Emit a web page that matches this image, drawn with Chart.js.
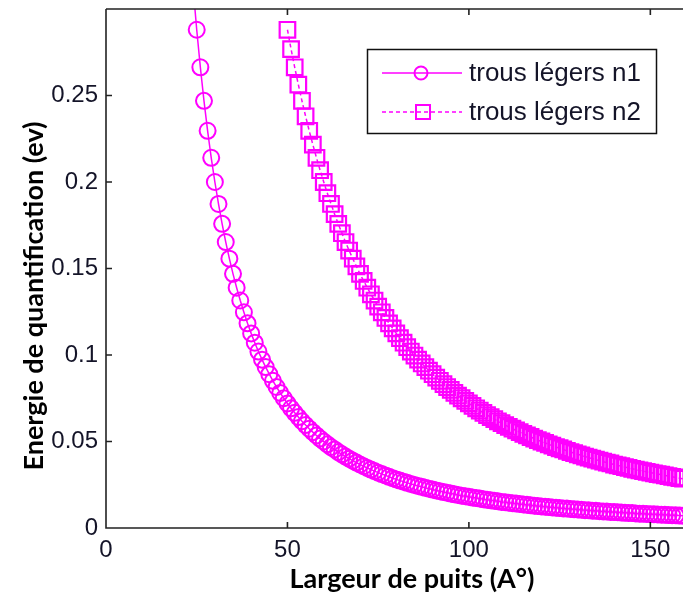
<!DOCTYPE html>
<html>
<head>
<meta charset="utf-8">
<script src="https://cdn.jsdelivr.net/npm/chart.js@4/dist/chart.umd.min.js"></script>
<style>
    html, body { margin: 0; padding: 0; background: #fff; }
    #wrap { width: 683px; height: 597px; position: relative; overflow: hidden; }
</style>
</head>
<body>
<div id="wrap"><canvas id="energyChart"></canvas></div>
<script>
// largeur de puits (A°)
const puits = [
    24, 25, 26, 27, 28, 29, 30, 31, 32, 33,
    34, 35, 36, 37, 38, 39, 40, 41, 42, 43,
    44, 45, 46, 47, 48, 49, 50, 51, 52, 53,
    54, 55, 56, 57, 58, 59, 60, 61, 62, 63,
    64, 65, 66, 67, 68, 69, 70, 71, 72, 73,
    74, 75, 76, 77, 78, 79, 80, 81, 82, 83,
    84, 85, 86, 87, 88, 89, 90, 91, 92, 93,
    94, 95, 96, 97, 98, 99, 100, 101, 102, 103,
    104, 105, 106, 107, 108, 109, 110, 111, 112, 113,
    114, 115, 116, 117, 118, 119, 120, 121, 122, 123,
    124, 125, 126, 127, 128, 129, 130, 131, 132, 133,
    134, 135, 136, 137, 138, 139, 140, 141, 142, 143,
    144, 145, 146, 147, 148, 149, 150, 151, 152, 153,
    154, 155, 156, 157, 158, 159, 160
];

// trous légers n1 (ev)
const energieN1 = [
    0.3125, 0.288, 0.2663, 0.2469, 0.2296, 0.2140, 0.2, 0.1873, 0.1758, 0.1653,
    0.1557, 0.1469, 0.1389, 0.1315, 0.1247, 0.1183, 0.1125, 0.1071, 0.1020, 0.0973,
    0.0930, 0.0889, 0.0851, 0.0815, 0.0781, 0.0750, 0.072, 0.0692, 0.0666, 0.0641,
    0.0617, 0.0595, 0.0574, 0.0554, 0.0535, 0.0517, 0.05, 0.0484, 0.0468, 0.0454,
    0.0439, 0.0426, 0.0413, 0.0401, 0.0389, 0.0378, 0.0367, 0.0357, 0.0347, 0.0338,
    0.0329, 0.032, 0.0312, 0.0304, 0.0296, 0.0288, 0.0281, 0.0274, 0.0268, 0.0261,
    0.0255, 0.0249, 0.0243, 0.0238, 0.0232, 0.0227, 0.0222, 0.0217, 0.0213, 0.0208,
    0.0204, 0.0199, 0.0195, 0.0191, 0.0187, 0.0184, 0.018, 0.0176, 0.0173, 0.0170,
    0.0166, 0.0163, 0.0160, 0.0157, 0.0154, 0.0151, 0.0149, 0.0146, 0.0143, 0.0141,
    0.0139, 0.0136, 0.0134, 0.0131, 0.0129, 0.0127, 0.0125, 0.0123, 0.0121, 0.0119,
    0.0117, 0.0115, 0.0113, 0.0112, 0.0110, 0.0108, 0.0107, 0.0105, 0.0103, 0.0102,
    0.0100, 0.0099, 0.0097, 0.0096, 0.0095, 0.0093, 0.0092, 0.0091, 0.0089, 0.0088,
    0.0087, 0.0086, 0.0084, 0.0083, 0.0082, 0.0081, 0.008, 0.0079, 0.0078, 0.0077,
    0.0076, 0.0075, 0.0074, 0.0073, 0.0072, 0.0071, 0.0070
];

// trous légers n2 (ev), starts at 50 A°
const energieN2 = [
    null, null, null, null, null, null, null, null, null, null,
    null, null, null, null, null, null, null, null, null, null,
    null, null, null, null, null, null, 0.288, 0.2768, 0.2663, 0.2563,
    0.2469, 0.2380, 0.2296, 0.2216, 0.2140, 0.2068, 0.2, 0.1935, 0.1873, 0.1814,
    0.1758, 0.1704, 0.1653, 0.1604, 0.1557, 0.1512, 0.1469, 0.1428, 0.1389, 0.1351,
    0.1315, 0.128, 0.1247, 0.1214, 0.1183, 0.1154, 0.1125, 0.1097, 0.1071, 0.1045,
    0.1020, 0.0997, 0.0973, 0.0951, 0.0930, 0.0909, 0.0889, 0.0869, 0.0851, 0.0832,
    0.0815, 0.0798, 0.0781, 0.0765, 0.0750, 0.0735, 0.072, 0.0706, 0.0692, 0.0679,
    0.0666, 0.0653, 0.0641, 0.0629, 0.0617, 0.0606, 0.0595, 0.0584, 0.0574, 0.0564,
    0.0554, 0.0544, 0.0535, 0.0526, 0.0517, 0.0508, 0.05, 0.0492, 0.0484, 0.0476,
    0.0468, 0.0461, 0.0454, 0.0446, 0.0439, 0.0433, 0.0426, 0.0420, 0.0413, 0.0407,
    0.0401, 0.0395, 0.0389, 0.0384, 0.0378, 0.0373, 0.0367, 0.0362, 0.0357, 0.0352,
    0.0347, 0.0342, 0.0338, 0.0333, 0.0329, 0.0324, 0.032, 0.0316, 0.0312, 0.0308,
    0.0304, 0.0300, 0.0296, 0.0292, 0.0288, 0.0285, 0.0281
];

const seriesNames = ['trous légers n1', 'trous légers n2'];
const xTicks = [0, 50, 100, 150];
const xTickLabels = ['0', '50', '100', '150'];
const yTicks = [0, 0.05, 0.1, 0.15, 0.2, 0.25];
const yTickLabels = ['0', '0.05', '0.1', '0.15', '0.2', '0.25'];
const xTitle = 'Largeur de puits (A°)';
const yTitle = 'Energie de quantification (ev)';

const MAGENTA = '#ff00ff';
const TEXT_DARK = '#141428';
const TICK_FONT = { family: '"Liberation Sans", Arial, sans-serif', size: 24 };
const TITLE_FONT = 'bold 27px Lato, "Open Sans", sans-serif';

const toPoints = ys => ys.map((y, i) => ({ x: puits[i], y: y }));

// MATLAB-style box: axis lines with inward ticks, titles and legend drawn inside
const matlabAxes = {
    id: 'matlabAxes',
    afterDatasetsDraw(chart) {
        const { ctx, chartArea: a, scales: { x, y } } = chart;
        ctx.save();
        ctx.strokeStyle = '#222';
        ctx.lineWidth = 1.6;
        ctx.beginPath();
        ctx.moveTo(a.left, a.top);
        ctx.lineTo(a.right + 2, a.top);
        ctx.moveTo(a.left, a.top);
        ctx.lineTo(a.left, a.bottom);
        ctx.lineTo(a.right + 2, a.bottom);
        xTicks.forEach(v => {
            const px = x.getPixelForValue(v);
            ctx.moveTo(px, a.bottom);
            ctx.lineTo(px, a.bottom - 6);
            ctx.moveTo(px, a.top);
            ctx.lineTo(px, a.top + 6);
        });
        yTicks.forEach(v => {
            const py = y.getPixelForValue(v);
            ctx.moveTo(a.left, py);
            ctx.lineTo(a.left + 6, py);
        });
        ctx.stroke();
        ctx.restore();
    },
    afterDraw(chart) {
        const { ctx } = chart;
        ctx.save();

        // axis titles
        ctx.fillStyle = '#000';
        ctx.font = TITLE_FONT;
        ctx.textAlign = 'center';
        ctx.textBaseline = 'alphabetic';
        ctx.fillText(xTitle, 412, 588);
        ctx.translate(43, 296);
        ctx.rotate(-Math.PI / 2);
        ctx.fillText(yTitle, 0, 0);
        ctx.setTransform(1, 0, 0, 1, 0, 0);

        // legend box
        const bx = 367, by = 49, bw = 289, bh = 84;
        ctx.fillStyle = '#fff';
        ctx.fillRect(bx, by, bw, bh);
        ctx.strokeStyle = '#111';
        ctx.lineWidth = 1.5;
        ctx.strokeRect(bx + 0.5, by + 0.5, bw, bh);

        const rows = [73, 112];
        ctx.strokeStyle = MAGENTA;
        rows.forEach((ry, i) => {
            ctx.lineWidth = 1.5;
            ctx.setLineDash(i === 0 ? [] : [4, 3]);
            ctx.beginPath();
            ctx.moveTo(382, ry);
            ctx.lineTo(462, ry);
            ctx.stroke();
            ctx.setLineDash([]);
            ctx.beginPath();
            ctx.lineWidth = 2;
            if (i === 0) {
                ctx.arc(421, ry, 6.5, 0, Math.PI * 2);
            } else {
                ctx.rect(416, ry - 7, 14, 14);
            }
            ctx.stroke();
        });

        ctx.fillStyle = TEXT_DARK;
        ctx.font = '26px "Liberation Sans", Arial, sans-serif';
        ctx.textAlign = 'left';
        ctx.textBaseline = 'middle';
        rows.forEach((ry, i) => ctx.fillText(seriesNames[i], 469, ry + 1));
        ctx.restore();
    }
};

const ctx = document.getElementById('energyChart').getContext('2d');
const chart = new Chart(ctx, {
    type: 'line',
    data: {
        datasets: [
            {
                label: seriesNames[0],
                data: toPoints(energieN1),
                borderColor: MAGENTA,
                borderWidth: 1.5,
                pointStyle: 'circle',
                pointRadius: 8,
                pointBorderWidth: 2,
                pointBorderColor: MAGENTA,
                pointBackgroundColor: 'rgba(0,0,0,0)',
                tension: 0
            },
            {
                label: seriesNames[1],
                data: toPoints(energieN2),
                borderColor: MAGENTA,
                borderWidth: 1.5,
                borderDash: [4, 3],
                pointStyle: 'rect',
                pointRadius: 11,
                pointBorderWidth: 2.2,
                pointBorderColor: MAGENTA,
                pointBackgroundColor: 'rgba(0,0,0,0)',
                spanGaps: false,
                tension: 0
            }
        ]
    },
    options: {
        responsive: true,
        maintainAspectRatio: false,
        animation: false,
        layout: {
            autoPadding: false,
            padding: { top: 9, right: 0, bottom: 0, left: 0 }
        },
        plugins: {
            legend: { display: false },
            tooltip: { enabled: false }
        },
        scales: {
            x: {
                type: 'linear',
                min: 0,
                max: 159,
                grid: { display: false, drawTicks: false },
                border: { display: false },
                afterBuildTicks: scale => {
                    scale.ticks = xTicks.map(v => ({ value: v }));
                },
                afterFit: scale => {
                    scale.height = 69;
                    scale.paddingLeft = 0;
                    scale.paddingRight = 0;
                },
                ticks: {
                    padding: 8,
                    maxRotation: 0,
                    font: TICK_FONT,
                    color: TEXT_DARK,
                    callback: value => xTickLabels[xTicks.indexOf(value)]
                }
            },
            y: {
                min: 0,
                max: 0.3,
                grid: { display: false, drawTicks: false },
                border: { display: false },
                afterBuildTicks: scale => {
                    scale.ticks = yTicks.map(v => ({ value: v }));
                },
                afterFit: scale => {
                    scale.width = 106;
                    scale.paddingTop = 0;
                    scale.paddingBottom = 0;
                },
                ticks: {
                    padding: 8,
                    font: TICK_FONT,
                    color: TEXT_DARK,
                    callback: value => yTickLabels[yTicks.indexOf(value)]
                }
            }
        }
    },
    plugins: [matlabAxes]
});
</script>
</body>
</html>
